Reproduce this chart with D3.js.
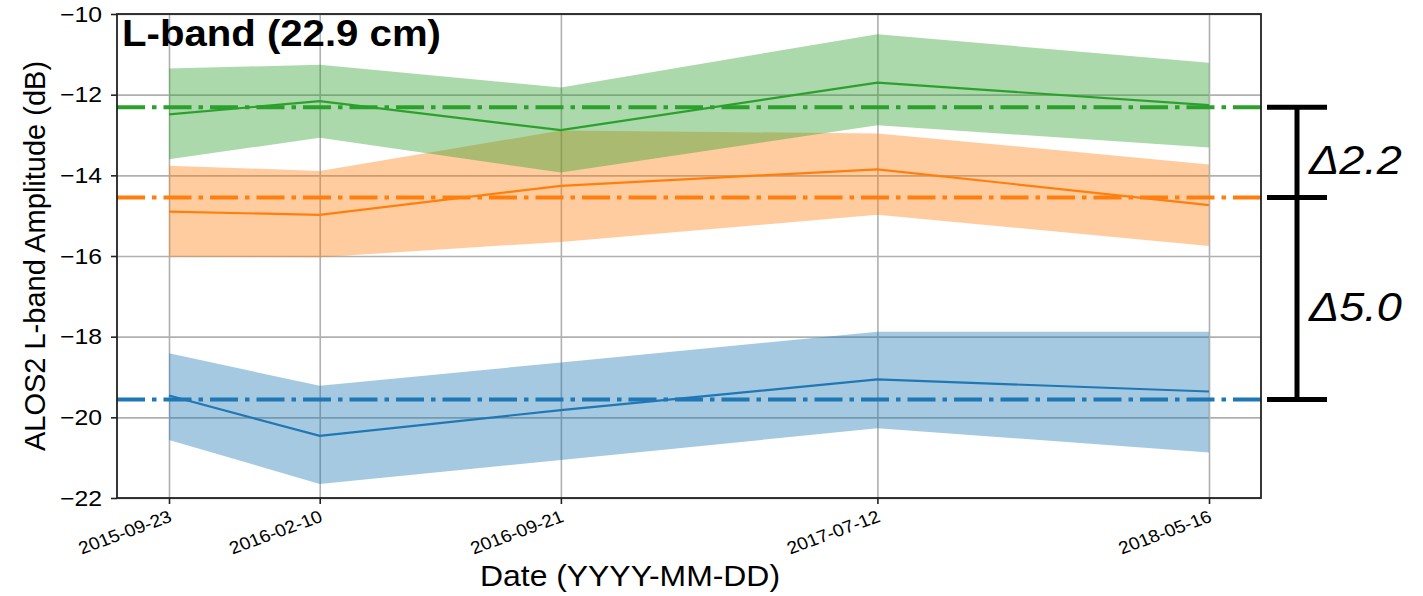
<!DOCTYPE html>
<html>
<head>
<meta charset="utf-8">
<script src="https://cdn.jsdelivr.net/npm/d3@7"></script>
<style>
  body { margin: 0; background: #fff; }
  text { font-family: "Liberation Sans", Arial, sans-serif; }
</style>
</head>
<body>
<div id="chart"></div>
<script>
// values
const dates = ["2015-09-23", "2016-02-10", "2016-09-21", "2017-07-12", "2018-05-16"];
const yTicks = [-22, -20, -18, -16, -14, -12, -10];

const blueMean  = [-19.46, -20.46, -19.82, -19.06, -19.36];
const blueUpper = [-18.41, -19.22, -18.64, -17.88, -17.88];
const blueLower = [-20.56, -21.65, -21.06, -20.27, -20.87];

const orangeMean  = [-14.90, -14.98, -14.26, -13.85, -14.74];
const orangeUpper = [-13.76, -13.89, -12.89, -12.96, -13.73];
const orangeLower = [-16.02, -16.03, -15.65, -14.98, -15.75];

const greenMean  = [-12.49, -12.16, -12.88, -11.70, -12.26];
const greenUpper = [-11.35, -11.26, -11.82, -10.50, -11.21];
const greenLower = [-13.60, -13.07, -13.93, -12.76, -13.31];

// overall mean levels (dash-dot lines)
const levelBlue = -19.56, levelOrange = -14.55, levelGreen = -12.31;

const titleText = "L-band (22.9 cm)";
const xLabel = "Date (YYYY-MM-DD)";
const yLabel = "ALOS2 L-band Amplitude (dB)";

const width = 1423, height = 596;
const margin = {left: 117, right: 162, top: 14, bottom: 98};
const sx = 1.1; // the reference is slightly stretched sideways

const parse = d3.timeParse("%Y-%m-%d");
const times = dates.map(parse);

const svg = d3.select("#chart").append("svg")
  .attr("width", width).attr("height", height);

const t0 = times[0].getTime(), t1 = times[times.length - 1].getTime();
const pad = (t1 - t0) * 0.05;
const x = d3.scaleTime()
  .domain([new Date(t0 - pad), new Date(t1 + pad)])
  .range([margin.left, width - margin.right]);
const y = d3.scaleLinear()
  .domain([-22, -10])
  .range([height - margin.bottom, margin.top]);

// grid
svg.append("g")
  .attr("transform", `translate(0,${height - margin.bottom})`)
  .call(d3.axisBottom(x).tickValues(times).tickSize(-(height - margin.top - margin.bottom)).tickFormat(""))
  .call(g => g.select(".domain").remove())
  .call(g => g.selectAll("line").attr("stroke", "#b0b0b0").attr("stroke-width", 1.6));
svg.append("g")
  .attr("transform", `translate(${margin.left},0)`)
  .call(d3.axisLeft(y).tickValues(yTicks).tickSize(-(width - margin.left - margin.right)).tickFormat(""))
  .call(g => g.select(".domain").remove())
  .call(g => g.selectAll("line").attr("stroke", "#b0b0b0").attr("stroke-width", 1.6));

const series = [
  {color: "#1f77b4", mean: blueMean, upper: blueUpper, lower: blueLower, level: levelBlue},
  {color: "#ff7f0e", mean: orangeMean, upper: orangeUpper, lower: orangeLower, level: levelOrange},
  {color: "#2ca02c", mean: greenMean, upper: greenUpper, lower: greenLower, level: levelGreen}
];

const area = d3.area()
  .x((d, i) => x(times[i]))
  .y0(d => y(d[0]))
  .y1(d => y(d[1]));
const line = d3.line()
  .x((d, i) => x(times[i]))
  .y(d => y(d));

series.forEach(s => {
  svg.append("path")
    .datum(s.lower.map((v, i) => [v, s.upper[i]]))
    .attr("d", area)
    .attr("fill", s.color)
    .attr("fill-opacity", 0.4);
});

series.forEach(s => {
  svg.append("path")
    .datum(s.mean)
    .attr("d", line)
    .attr("fill", "none")
    .attr("stroke", s.color)
    .attr("stroke-width", 2.2);
  svg.append("line")
    .attr("x1", margin.left).attr("x2", width - margin.right)
    .attr("y1", y(s.level)).attr("y2", y(s.level))
    .attr("stroke", s.color)
    .attr("stroke-width", 4)
    .attr("stroke-dasharray", "28,7,4.5,7");
});

// spines
svg.append("rect")
  .attr("x", margin.left).attr("y", margin.top)
  .attr("width", width - margin.left - margin.right)
  .attr("height", height - margin.top - margin.bottom)
  .attr("fill", "none").attr("stroke", "#222").attr("stroke-width", 1.8);

// ticks
svg.append("g")
  .attr("transform", `translate(0,${height - margin.bottom})`)
  .call(d3.axisBottom(x).tickValues(times).tickSize(6).tickFormat(""))
  .call(g => g.select(".domain").remove())
  .call(g => g.selectAll("line").attr("stroke", "#222").attr("stroke-width", 1.6));
svg.append("g")
  .attr("transform", `translate(${margin.left},0)`)
  .call(d3.axisLeft(y).tickValues(yTicks).tickSize(6).tickFormat(""))
  .call(g => g.select(".domain").remove())
  .call(g => g.selectAll("line").attr("stroke", "#222").attr("stroke-width", 1.6));

// stretched text helper
function label(px, py, str, opts) {
  const g = svg.append("g")
    .attr("transform", `translate(${px},${py}) scale(${sx},1)` + (opts.rotate ? ` rotate(${opts.rotate})` : ""));
  return g.append("text")
    .attr("text-anchor", opts.anchor || "start")
    .attr("font-size", opts.size)
    .attr("font-weight", opts.weight || "normal")
    .attr("font-style", opts.style || "normal")
    .attr("fill", "#000")
    .text(str);
}

yTicks.forEach(v => {
  label(margin.left - 15, y(v) + 7.8, String(v).replace("-", "\u2212"), {anchor: "end", size: 22.5});
});

times.forEach((t, i) => {
  label(x(t) + 4, 521, dates[i], {anchor: "end", size: 17.5, rotate: -22});
});

label(630, 586, xLabel, {anchor: "middle", size: 29});

svg.append("text")
  .attr("transform", `translate(45,${(margin.top + height - margin.bottom) / 2}) rotate(-90)`)
  .attr("text-anchor", "middle")
  .attr("font-size", 29)
  .text(yLabel);

label(margin.left + 5, 46, titleText, {size: 36.5, weight: "bold"});

// difference bracket on the right
const bx = 1297, capHalf = 30;
const levels = [levelGreen, levelOrange, levelBlue];
svg.append("line")
  .attr("x1", bx).attr("x2", bx)
  .attr("y1", y(levelGreen)).attr("y2", y(levelBlue))
  .attr("stroke", "#000").attr("stroke-width", 5);
levels.forEach(v => {
  svg.append("line")
    .attr("x1", bx - capHalf).attr("x2", bx + capHalf)
    .attr("y1", y(v)).attr("y2", y(v))
    .attr("stroke", "#000").attr("stroke-width", 5);
});
for (let i = 0; i < levels.length - 1; i++) {
  const mid = (y(levels[i]) + y(levels[i + 1])) / 2;
  const diff = Math.abs(levels[i] - levels[i + 1]).toFixed(1);
  label(bx + 12, mid + 22, "\u0394" + diff, {size: 41, style: "italic"});
}
</script>
</body>
</html>
